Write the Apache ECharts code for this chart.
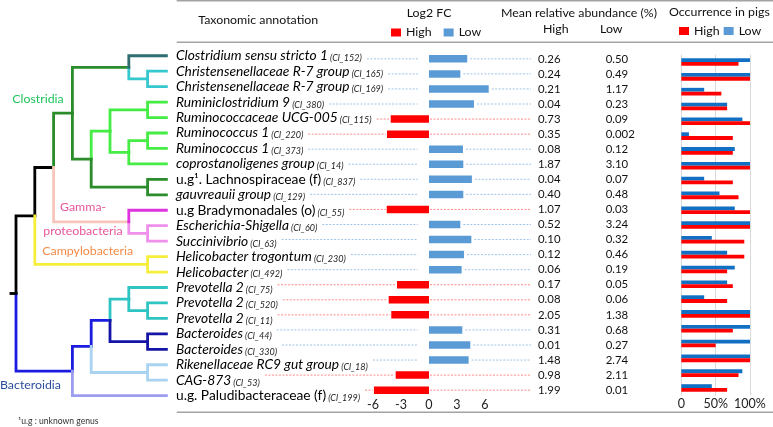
<!DOCTYPE html>
<html><head><meta charset="utf-8">
<script src="https://cdn.jsdelivr.net/npm/echarts@6/dist/echarts.min.js"></script>
<style>html,body{margin:0;padding:0;background:#fff}#c{width:773px;height:427px}</style>
</head><body><div id="c"></div>
<script>
// ---------------- DATA ----------------
const taxa = [
 'Clostridium sensu stricto 1','Christensenellaceae R-7 group','Christensenellaceae R-7 group',
 'Ruminiclostridium 9','Ruminococcaceae UCG-005','Ruminococcus 1','Ruminococcus 1',
 'coprostanoligenes group','u.g\u00B9. Lachnospiraceae (f)','gauvreauii group',
 'u.g Bradymonadales (o)','Escherichia-Shigella','Succinivibrio','Helicobacter trogontum',
 'Helicobacter','Prevotella 2','Prevotella 2','Prevotella 2','Bacteroides','Bacteroides',
 'Rikenellaceae RC9 gut group','CAG-873','u.g. Paludibacteraceae (f)'];
const clusters = ['Cl_152','Cl_165','Cl_169','Cl_380','Cl_115','Cl_220','Cl_373','Cl_14','Cl_837',
 'Cl_129','Cl_55','Cl_60','Cl_63','Cl_230','Cl_492','Cl_75','Cl_520','Cl_11','Cl_44','Cl_330',
 'Cl_18','Cl_53','Cl_199'];
const log2fc = [4.1,3.36,6.4,4.82,-4.1,-4.5,3.64,3.68,4.6,3.68,-4.53,3.36,4.54,3.75,3.5,
 -3.43,-4.32,-4.04,3.57,4.43,4.25,-3.57,-5.9];
const meanHigh = ['0.26','0.24','0.21','0.04','0.73','0.35','0.08','1.87','0.04','0.40','1.07',
 '0.52','0.10','0.12','0.06','0.17','0.08','2.05','0.31','0.01','1.48','0.98','1.99'];
const meanLow = ['0.50','0.49','1.17','0.23','0.09','0.002','0.12','3.10','0.07','0.48','0.03',
 '3.24','0.32','0.46','0.19','0.05','0.06','1.38','0.68','0.27','2.74','2.11','0.01'];
const occHigh = [83.3,100,58.3,66.7,100,75,75,100,75,83.3,100,100,91.7,91.7,66.7,75,66.7,100,75,50,100,83.3,66.7];
const occLow = [100,100,33.3,66.7,88.9,11.1,77.8,100,33.3,55.6,77.8,100,44.4,66.7,77.8,66.7,33.3,100,100,100,100,88.9,44.4];
const log2Ticks = [-6,-3,0,3,6];
const occTicks = [0,50,100];
// tree topology: [node, parent, depth]
const treeNodes = [
 ['root',null,0],['n1','root',1],['n2','n1',2],['clos','n2',3],['clos_a','clos',6],['chris','clos_a',7],
 ['clos_b','clos',4],['rum','clos_b',5],['rum_a','rum',7],['rum_b','rum',6],['rum_c','rum_b',7],
 ['lach','clos_b',7],['gamma','n2',6],['gamma_a','gamma',7],['campy','n1',7],
 ['bact','root',3],['bact_a','bact',4],['bact_b','bact_a',5],['prev','bact_b',6],['prev_a','prev',7],
 ['bacteroides','bact_b',7],['riken','bact_a',7]];
const leafParents = ['clos_a','chris','chris','rum_a','rum_a','rum_c','rum_c','rum_b','lach','lach',
 'gamma','gamma_a','gamma_a','campy','campy','prev','prev_a','prev_a','bacteroides','bacteroides',
 'riken','riken','bact'];
const leafDepth = 8;

// ---------------- STYLE ----------------
const FONT = 'Lato';
const edgeColors = {n1:'#000',n2:'#000',clos:'#2a8c2a',clos_a:'#2a8c2a',chris:'#35c8cf',clos_b:'#2a8c2a',
 rum:'#44ec44',rum_a:'#44ec44',rum_b:'#44ec44',rum_c:'#44ec44',lach:'#2a8c2a',gamma:'#f6c6bd',
 gamma_a:'#ef90ec',campy:'#f5ef3c',bact:'#1c1ce0',bact_a:'#1c1ce0',bact_b:'#1c1ce0',prev:'#2ec4c2',
 prev_a:'#2ec4c2',bacteroides:'#1414a6',riken:'#a9d3f1'};
const leafColors = ['#2f6d70','#35c8cf','#35c8cf','#44ec44','#44ec44','#44ec44','#44ec44','#44ec44',
 '#2a8c2a','#2a8c2a','#de34de','#ef90ec','#ef90ec','#f5ef3c','#f5ef3c','#2ec4c2','#2ec4c2','#2ec4c2',
 '#1414a6','#1414a6','#a9d3f1','#a9d3f1','#9c9cf0'];
const RED = '#ff0000', BLUE = '#5b9bd5', OCC_BLUE = '#1170c4';

const ctx = document.createElement('canvas').getContext('2d');
function tw(text, size, italic){ ctx.font = (italic?'italic ':'') + size + 'px ' + FONT; return ctx.measureText(text).width; }
const LBL = 13 * 152 / tw('Clostridium sensu stricto 1', 13, true);
const SUF = 9 * 32 / tw('(Cl_152)', 9, true);
const HDR = 13 * 120 / tw('Taxonomic annotation', 13, false);
const VAL = 12 * 22.5 / tw('0.26', 12, false);
const CLD = 13 * 91 / tw('Campylobacteria', 13, false);
const italicName = taxa.map(t => !t.startsWith('u.g'));
const idx = taxa.map((_, i) => String(i));

// ---------------- TREE ----------------
const nodes = {};
treeNodes.forEach(([id,p,d]) => nodes[id] = {id,p,d,kids:[]});
leafParents.forEach((p,i) => nodes['leaf'+i] = {id:'leaf'+i,p,d:leafDepth,kids:[],row:i,leaf:true});
Object.values(nodes).forEach(n => { if (n.p) nodes[n.p].kids.push(n); });
function ypos(n){ if (n.leaf) return n.row; n.y = n.kids.reduce((s,k)=>s+ypos(k),0)/n.kids.length; return n.y; }
ypos(nodes.root);
const yOf = n => n.leaf ? n.row : n.y;
const edges = [];
Object.values(nodes).forEach(n => {
  if (!n.p) return;
  const p = nodes[n.p];
  edges.push({coords:[[p.d, yOf(p)],[p.d, yOf(n)],[n.d, yOf(n)]],
    lineStyle:{color: n.leaf ? leafColors[n.row] : edgeColors[n.id]}});
});
edges.push({coords:[[-0.27, yOf(nodes.root)],[0, yOf(nodes.root)]], lineStyle:{color:'#000'}});

const treeGrid = {left:16, top:48, width:150.4, height:355.4};
const fcGrid = {left:373, top:51.3, width:121.3, height:346.4};
const occGrid = {left:681.3, top:54.6, width:68.7, height:340.8};
const hiddenAxis = {axisLine:{show:false}, axisTick:{show:false}, splitLine:{show:false}};

const chart = echarts.init(document.getElementById('c'), null, {renderer:'canvas'});
const option = {
  animation:false,
  backgroundColor:'#fff',
  textStyle:{fontFamily:FONT},
  grid:[Object.assign({outerBoundsMode:'none'},treeGrid),Object.assign({outerBoundsMode:'none'},fcGrid),Object.assign({outerBoundsMode:'none'},occGrid)],
  legend:[
    {data:['High','Low'], left:386, top:21.5, itemWidth:10, itemHeight:8, itemGap:12, icon:'rect',
     selectedMode:false, textStyle:{fontFamily:FONT, fontSize:HDR, color:'#111'}},
    {data:['High','Low'], left:674, top:20, itemWidth:10, itemHeight:8, itemGap:4, icon:'rect',
     selectedMode:false, textStyle:{fontFamily:FONT, fontSize:HDR, color:'#111'}}
  ],
  xAxis:[
    Object.assign({gridIndex:0, type:'value', min:0, max:8, show:false}),
    Object.assign({gridIndex:1, type:'value', min:-6, max:7, interval:3,
      axisLabel:{margin:1, fontSize:12.5, color:'#222', fontFamily:FONT,
        formatter: v => log2Ticks.includes(v) ? String(v) : ''}}, hiddenAxis),
    {gridIndex:2, type:'value', min:0, max:100, interval:50, axisLine:{show:false}, axisTick:{show:false},
      splitLine:{show:true, lineStyle:{color:'#d9d9d9', width:1}},
      axisLabel:{margin:2, fontSize:12.5, color:'#222', fontFamily:FONT,
        formatter: v => occTicks.includes(v) ? (v === 0 ? '0' : v + '%') : ''}}
  ],
  yAxis:[
    {gridIndex:0, type:'value', min:-0.5, max:22.5, inverse:true, show:false},
    Object.assign({gridIndex:0, type:'category', position:'right', inverse:true, data:idx,
      axisLabel:{interval:0, margin:9.6, align:'left',
        formatter:(v,i) => `{${italicName[i]?'it':'nm'}|${taxa[i]}}{sm| (${clusters[i]})}`,
        rich:{
          it:{fontFamily:FONT, fontStyle:'italic', fontSize:LBL, color:'#000'},
          nm:{fontFamily:FONT, fontSize:LBL, color:'#000'},
          sm:{fontFamily:FONT, fontStyle:'italic', fontSize:SUF, color:'#222', verticalAlign:'bottom', padding:[0,0,0,0]}
        }}}, hiddenAxis),
    {gridIndex:1, type:'category', inverse:true, data:idx, show:false},
    Object.assign({gridIndex:1, type:'category', position:'right', inverse:true, data:idx,
      axisLabel:{interval:0, margin:43.7, align:'left', fontSize:VAL, color:'#111', fontFamily:FONT,
        padding:[4,0,0,0], formatter:(v,i) => meanHigh[i]}}, hiddenAxis),
    Object.assign({gridIndex:1, type:'category', position:'right', inverse:true, data:idx,
      axisLabel:{interval:0, margin:111.4, align:'left', fontSize:VAL, color:'#111', fontFamily:FONT,
        padding:[4,0,0,0], formatter:(v,i) => meanLow[i]}}, hiddenAxis),
    {gridIndex:2, type:'category', inverse:true, data:idx, show:false}
  ],
  series:[
    {name:'High', type:'bar', xAxisIndex:1, yAxisIndex:2, barWidth:7.5, barGap:'-100%',
      itemStyle:{color:RED}, data: log2fc.map(v => v < 0 ? v : '-')},
    {name:'Low', type:'bar', xAxisIndex:1, yAxisIndex:2, barWidth:7.5, barGap:'-100%',
      itemStyle:{color:BLUE}, data: log2fc.map(v => v > 0 ? v : '-')},
    {name:'Low', type:'bar', xAxisIndex:2, yAxisIndex:5, barWidth:3.8, barGap:'0%',
      itemStyle:{color:OCC_BLUE}, data: occLow},
    {name:'High', type:'bar', xAxisIndex:2, yAxisIndex:5, barWidth:3.8, barGap:'0%',
      itemStyle:{color:RED}, data: occHigh},
    {type:'lines', coordinateSystem:'cartesian2d', xAxisIndex:0, yAxisIndex:0, polyline:true, clip:false,
      silent:true, lineStyle:{width:2.8, opacity:1, cap:'square', join:'miter'}, data: edges}
  ]
};
chart.setOption(option);

// ---------------- ANNOTATIONS ----------------
const g = [];
const txt = (x, y, s, size, color, extra) => g.push({type:'text', x, y, silent:true,
  style:Object.assign({text:s, fontFamily:FONT, fontSize:size, fill:color, verticalAlign:'middle', align:'left'}, extra||{})});
const rule = (y) => g.push({type:'line', silent:true, shape:{x1:176.7, y1:y, x2:773, y2:y}, style:{stroke:'#a3a3a3', lineWidth:1.5}});
rule(0.8); rule(42.3); rule(412.3);
txt(198.3, 20, 'Taxonomic annotation', HDR, '#111');
txt(406.7, 13.3, 'Log2 FC', HDR, '#111');
txt(501, 13, 'Mean relative abundance (%)', HDR, '#111');
txt(543, 29, 'High', HDR, '#111');
txt(600, 29, 'Low', HDR, '#111');
txt(669, 12, 'Occurrence in pigs', HDR, '#111');
txt(12.3, 99.3, 'Clostridia', CLD, '#20c35c');
txt(60, 207.3, 'Gamma-', CLD, '#e8559a');
txt(43.3, 231.3, 'proteobacteria', CLD, '#e8559a');
txt(42.3, 251, 'Campylobacteria', CLD, '#f48a45');
txt(0, 385, 'Bacteroidia', CLD, '#2a4d9c');
txt(18.3, 421, '\u00B9u.g : unknown genus', 8.6, '#333');

// dotted leader lines through the library's scales
const labelLeft = treeGrid.left + treeGrid.width + 9.6;
const valueLeft = fcGrid.left + fcGrid.width + 43.7;
log2fc.forEach((v, i) => {
  const y = chart.convertToPixel({xAxisIndex:1, yAxisIndex:2}, [0, i])[1];
  const lw = tw(taxa[i], LBL, italicName[i]) + tw(' (' + clusters[i] + ')', SUF, true);
  const x0 = labelLeft + lw + 5;
  const zero = chart.convertToPixel({xAxisIndex:1, yAxisIndex:2}, [0, i])[0];
  const barEnd = chart.convertToPixel({xAxisIndex:1, yAxisIndex:2}, [v, i])[0];
  const col = v < 0 ? '#ff8a8a' : '#9fc4e8';
  const leftEnd = v < 0 ? barEnd - 1 : chart.convertToPixel({xAxisIndex:1, yAxisIndex:2}, [-1.2, i])[0];
  const rightStart = v < 0 ? zero + 1 : barEnd + 3;
  const rightEnd = valueLeft - 7;
  [[x0, leftEnd],[rightStart, rightEnd]].forEach(([a,b]) => {
    if (b > a) g.push({type:'line', silent:true, shape:{x1:a, y1:y, x2:b, y2:y},
      style:{stroke:col, lineWidth:1, lineDash:[2,1.5]}});
  });
});
chart.setOption({graphic: g});
</script></body></html>
